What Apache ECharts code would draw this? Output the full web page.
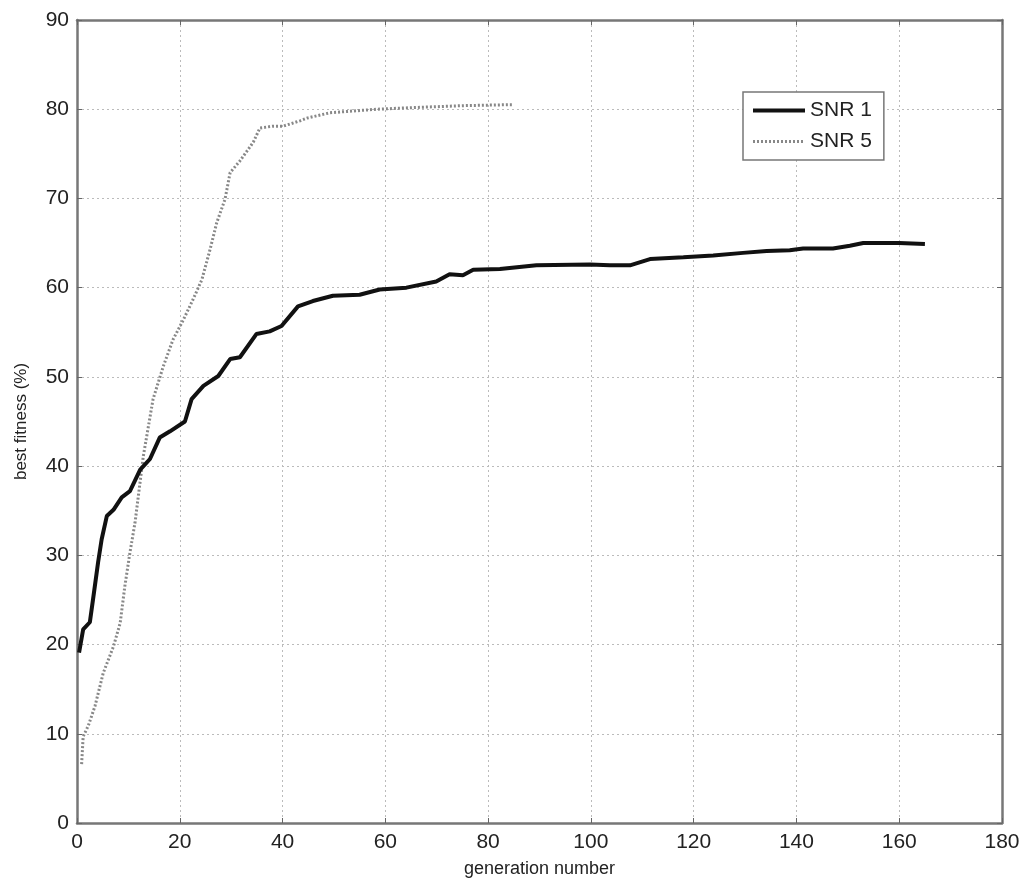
<!DOCTYPE html>
<html><head><meta charset="utf-8">
<script src="https://cdn.jsdelivr.net/npm/echarts@6/dist/echarts.min.js"></script>
<style>html,body{margin:0;padding:0;background:#fff}#c{width:1024px;height:894px}</style>
</head><body><div id="c"></div>
<script>
const xTicks = [0,20,40,60,80,100,120,140,160,180];
const yTicks = [0,10,20,30,40,50,60,70,80,90];
const seriesNames = ['SNR 1','SNR 5'];
const snr1Gen = [0.4,1.2,2.5,3.2,4.1,4.8,5.8,7.1,8.7,10.3,12.3,14.2,16.1,18.1,21,22.3,24.6,27.5,29.8,31.7,34.9,37.5,39.8,43,45.9,49.8,55,58.9,64.1,69.9,72.5,75.1,77.1,82.3,89.4,99.8,103.7,107.6,111.5,118,123.8,129.6,134.2,138.7,141.3,147.1,150.4,153,160,165];
const snr1Fit = [19.1,21.7,22.5,25.4,29.2,31.8,34.4,35.1,36.5,37.2,39.6,40.8,43.2,43.9,45,47.5,49,50.1,52,52.2,54.8,55.1,55.7,57.9,58.5,59.1,59.2,59.8,60,60.7,61.5,61.4,62,62.1,62.5,62.6,62.5,62.5,63.2,63.4,63.6,63.9,64.1,64.2,64.4,64.4,64.7,65.0,65.0,64.9];
const snr5Gen = [0.9,1.2,2.2,3.5,5.1,7.1,8.4,9.3,10.3,11.3,12.9,14.8,16.8,18.7,20.7,22.6,24.3,25.9,27.2,28.8,29.8,31.7,34.3,35.6,38.2,40.1,43.4,44.7,49.2,58.3,66.1,75.2,83.6,85];
const snr5Fit = [6.6,9.7,10.9,13.1,16.8,19.8,22.4,26.5,30.3,33.7,41.1,47.5,51.2,54.2,56.4,58.7,60.9,64.3,67.3,69.9,72.9,74.2,76.3,77.9,78.1,78.1,78.7,79.0,79.6,80.0,80.2,80.4,80.5,80.5];

const pair = (xs, ys) => xs.map((x, i) => [x, ys[i]]);
const font = 'Liberation Sans, Arial, sans-serif';
const frame = {show:true, onZero:false, lineStyle:{color:'#777', width:2.5}};
const grid = {show:true, lineStyle:{color:'#bbb', type:[2,3], width:1}};
const tick = {show:true, inside:true, length:5, lineStyle:{color:'#666'}};

const chart = echarts.init(document.getElementById('c'), null, {renderer:'canvas'});
chart.setOption({
  animation:false,
  backgroundColor:'#fff',
  grid:{left:77, top:20, width:925, height:803, containLabel:false},
  legend:{
    orient:'vertical', left:743, top:92,
    data:[
      {name:seriesNames[0], lineStyle:{width:4, color:'#111'}},
      {name:seriesNames[1], lineStyle:{width:3, color:'#888', type:[2,2]}}
    ],
    backgroundColor:'#fff', borderColor:'#777', borderWidth:1.5,
    padding:[8,12,8,8], itemGap:10, itemWidth:52, itemHeight:14,
    itemStyle:{opacity:0},
    textStyle:{fontFamily:font, fontSize:21, color:'#222'}
  },
  xAxis:[
    {type:'value', min:0, max:180, interval:20, position:'bottom',
     name:'generation number', nameLocation:'middle', nameGap:37,
     nameTextStyle:{fontFamily:font, fontSize:18, color:'#222'},
     axisLine:frame, axisTick:tick,
     axisLabel:{fontFamily:font, fontSize:21, color:'#222', margin:9,
       formatter:v => xTicks.includes(v) ? String(v) : ''},
     splitLine:grid},
    {type:'value', min:0, max:180, interval:20, position:'top',
     axisLine:frame, axisTick:tick,
     axisLabel:{show:false}, splitLine:{show:false}}
  ],
  yAxis:[
    {type:'value', min:0, max:90, interval:10, position:'left',
     name:'best fitness (%)', nameLocation:'middle', nameGap:47, nameRotate:90,
     nameTextStyle:{fontFamily:font, fontSize:17, color:'#222'},
     axisLine:frame, axisTick:tick,
     axisLabel:{fontFamily:font, fontSize:21, color:'#222', margin:8,
       formatter:v => yTicks.includes(v) ? String(v) : ''},
     splitLine:grid},
    {type:'value', min:0, max:90, interval:10, position:'right',
     axisLine:frame, axisTick:tick,
     axisLabel:{show:false}, splitLine:{show:false}}
  ],
  series:[
    {name:seriesNames[0], type:'line', data:pair(snr1Gen, snr1Fit), showSymbol:false, symbol:'none',
     lineStyle:{color:'#111', width:4}, itemStyle:{color:'#111'}, z:3},
    {name:seriesNames[1], type:'line', data:pair(snr5Gen, snr5Fit), showSymbol:false, symbol:'none',
     lineStyle:{color:'#888', width:3, type:[2,2]}, itemStyle:{color:'#888'}, z:2}
  ]
});
</script></body></html>
